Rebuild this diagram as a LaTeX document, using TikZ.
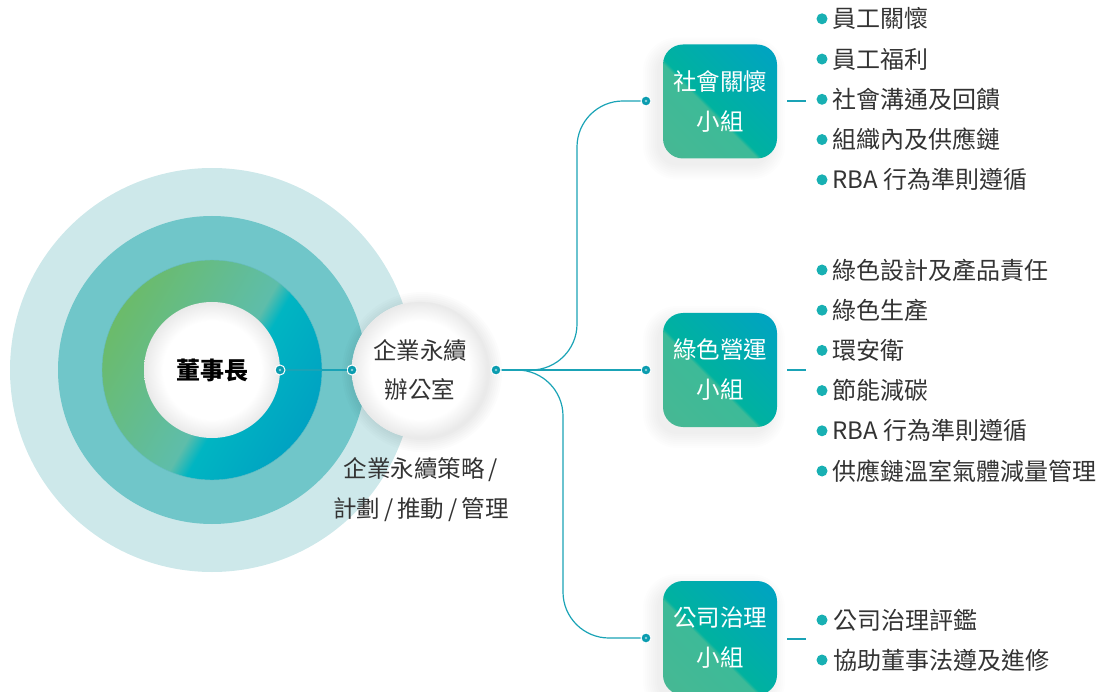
\documentclass[tikz,border=0pt]{standalone}
\usepackage{fontspec}
\newfontfamily\cjk{Noto Sans CJK TC}
\definecolor{outerC}{HTML}{CDE8EA}
\definecolor{midC}{HTML}{70C6C9}
\definecolor{rgA}{HTML}{6BBB6A}
\definecolor{rgB}{HTML}{5EBDAA}
\definecolor{rgC}{HTML}{00B5C2}
\definecolor{rgD}{HTML}{00A2C2}
\definecolor{bxA}{HTML}{47B893}
\definecolor{bxB}{HTML}{3DBA98}
\definecolor{bxC}{HTML}{00B29F}
\definecolor{bxD}{HTML}{00A2C4}
\definecolor{lineC}{HTML}{1AA3B6}
\definecolor{dotC}{HTML}{0A9CAF}
\definecolor{bulC}{HTML}{18B0B3}
\definecolor{txtC}{HTML}{333333}
\definecolor{ballEdge}{HTML}{E9E9E9}
\pgfdeclarehorizontalshading{ringsh}{100bp}{color(0bp)=(rgA); color(25bp)=(rgA); color(53bp)=(rgB); color(57bp)=(rgC); color(75bp)=(rgD); color(100bp)=(rgD)}
\pgfdeclarehorizontalshading{boxsh}{100bp}{color(0bp)=(bxA); color(15bp)=(bxA); color(44bp)=(bxB); color(45.5bp)=(bxC); color(85bp)=(bxD); color(100bp)=(bxD)}
\pgfdeclareradialshading{wball}{\pgfpoint{0bp}{0bp}}{color(0bp)=(white); color(18bp)=(white); color(25bp)=(ballEdge); color(50bp)=(ballEdge)}
\begin{document}
\begin{tikzpicture}[x=1pt,y=-1pt,font=\cjk,
  disc/.style={circle, inner sep=0pt, minimum size=#1},
  connln/.style={draw=lineC, line width=1.2pt, rounded corners=46pt},
  mainln/.style={draw=lineC, line width=1.8pt},
  jdot/.style={circle, fill=dotC, draw=white, line width=1pt, inner sep=0pt, minimum size=10pt,
    path picture={\fill[white,opacity=0.55] (path picture bounding box.center) circle[radius=1.3pt];}},
  gbox/.style={rounded corners=20pt, minimum width=114pt, minimum height=114pt, inner sep=0pt,
    shading=boxsh, shading angle=45, text=white, align=center, font=\cjk\fontsize{23.5}{40}\selectfont},
  ball/.style={disc=136pt, shading=wball, align=center, text=txtC},
  bulletdot/.style={circle, fill=bulC, inner sep=0pt, minimum size=11pt},
  listitem/.style={anchor=west, inner sep=0pt, text=txtC, font=\cjk\fontsize{24}{28}\selectfont},
  shortln/.style={draw=lineC, line width=1.2pt}
]
\useasboundingbox (0,0) rectangle (1097,692);

% concentric circles
\node[disc=404pt, fill=outerC] (outer) at (212,370) {};
\node[disc=308pt, fill=midC] (middle) at (212,370) {};
\node[disc=220pt, shading=ringsh, shading angle=-30, draw=rgC!80!black!60, line width=0.4pt] (ring) at (212,370) {};
\node[ball, font=\cjk\bfseries\fontsize{24}{30}\selectfont, text=black] (chair) at (212,370) {董事長};

% office circle glow
\foreach \d in {0,2,...,12}
  \fill[black, opacity=0.010] (422,372) circle[radius={(68+\d)*1pt}];
\node[ball, draw=black!8, line width=0.6pt, font=\cjk\fontsize{23.5}{39}\selectfont] (office) at (420,370) {企業永續\\辦公室};

\node[align=center, text=txtC, font=\cjk\fontsize{23.5}{40}\selectfont, inner sep=0pt] (duty) at (421,490) {企業永續策略\,/\\計劃\,/\,推動\,/\,管理};

% box shadows
\foreach \cy in {101.5, 370, 638}
  \foreach \d in {0,2,...,14}
    \fill[black, opacity=0.009, rounded corners={(20+\d)*1pt}]
      ({714-57-\d},{\cy+7-57-\d}) rectangle ({714+57+\d},{\cy+7+57+\d});

% group boxes
\node[gbox] (g1) at (720,101.5) {社會關懷\\小組};
\node[gbox] (g2) at (720,370) {綠色營運\\小組};
\node[gbox] (g3) at (720,638) {公司治理\\小組};

% dots
\node[jdot] (dC) at (280,370) {};
\node[jdot] (dO1) at (352,370) {};
\node[jdot] (dO) at (496,370) {};
\node[jdot] (d1) at (646,101) {};
\node[jdot] (d2) at (646,370) {};
\node[jdot] (d3) at (646,638) {};
\coordinate (t1) at (577,101);
\coordinate (t3) at (563,638);

% connectors
\draw[shortln] (dC) -- (dO1);
\draw[connln] (dO) -| (t1) -- (d1);
\draw[connln] (dO) -| (t3) -- (d3);
\draw[mainln] (dO) -- (d2);

% short links to lists
\coordinate (s1a) at (787,101); \coordinate (s1b) at (806,101);
\coordinate (s2a) at (787,370); \coordinate (s2b) at (806,370);
\coordinate (s3a) at (787,639); \coordinate (s3b) at (806,639);
\draw[shortln] (s1a) -- (s1b);
\draw[shortln] (s2a) -- (s2b);
\draw[shortln] (s3a) -- (s3b);

% lists
\foreach \t [count=\i] in {員工關懷,員工福利,社會溝通及回饋,組織內及供應鏈,RBA 行為準則遵循} {
  \node[bulletdot] (pa\i) at (822,{99.3+40.25*(\i-3)}) {};
  \node[listitem] (ta\i) at (832,{99.3+40.25*(\i-3)}) {\t};
}
\foreach \t [count=\i] in {綠色設計及產品責任,綠色生產,環安衛,節能減碳,RBA 行為準則遵循,供應鏈溫室氣體減量管理} {
  \node[bulletdot] (pb\i) at (822,{370.5+40.2*(\i-3.5)}) {};
  \node[listitem] (tb\i) at (832,{370.5+40.2*(\i-3.5)}) {\t};
}
\foreach \t [count=\i] in {公司治理評鑑,協助董事法遵及進修} {
  \node[bulletdot] (pc\i) at (822,{640+40*(\i-1.5)}) {};
  \node[listitem] (tc\i) at (833,{640+40*(\i-1.5)}) {\t};
}
\end{tikzpicture}
\end{document}
